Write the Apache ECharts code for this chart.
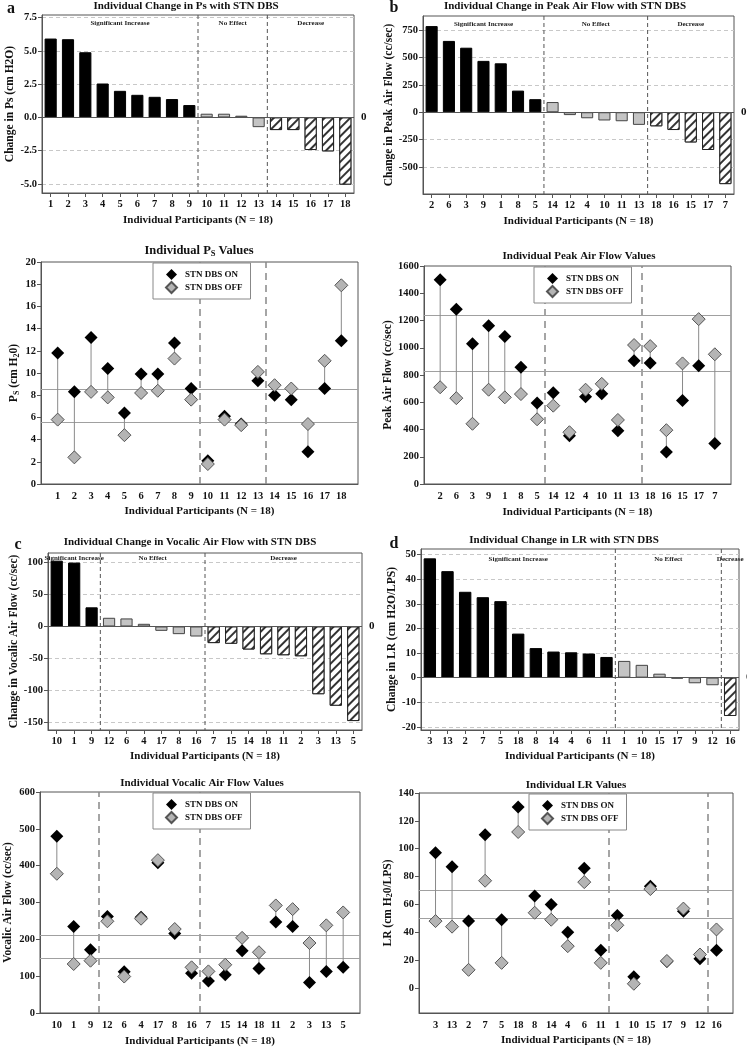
<!DOCTYPE html>
<html><head><meta charset="utf-8">
<script src="https://cdn.jsdelivr.net/npm/echarts@6.0.0/dist/echarts.min.js"></script>
<style>html,body{margin:0;padding:0;background:#fff}#c{width:747px;height:1049px}</style>
</head><body><div id="c"></div>
<script>
const FONT = '"Liberation Serif","Times New Roman",serif';
const groupLabels = ['Significant Increase', 'No Effect', 'Decrease'];
const xTitle = 'Individual Participants (N = 18)';
const legendNames = ['STN DBS ON', 'STN DBS OFF'];

// Panel a: subglottal pressure Ps
const psOrder = ['1','2','3','4','5','6','7','8','9','10','11','12','13','14','15','16','17','18'];
const psChange = [5.93,5.88,4.9,2.55,2.0,1.7,1.55,1.38,0.93,0.28,0.28,0.13,-0.73,-0.95,-0.95,-2.45,-2.55,-5.05];
const psOn  = [11.8,8.3,13.2,10.4,6.4,9.9,9.9,12.7,8.6,2.1,6.1,5.4,9.3,8.0,7.6,2.9,8.6,12.9];
const psOff = [5.8,2.4,8.3,7.8,4.4,8.2,8.4,11.3,7.6,1.8,5.8,5.3,10.1,8.9,8.6,5.4,11.1,17.9];
const psGroupSizes = [9, 4, 5];
const psRefLines = [8.5, 5.55];
const psChangeTicks = [-5, -2.5, 0, 2.5, 5, 7.5];

// Panel b: peak air flow
const pafOrder = ['2','6','3','9','1','8','5','14','12','4','10','11','13','18','16','15','17','7'];
const pafChange = [785,650,588,468,446,197,119,93,-26,-55,-75,-82,-115,-128,-162,-275,-344,-655];
const pafOn  = [1500,1282,1030,1162,1082,857,595,670,355,640,662,390,905,888,235,612,868,297];
const pafOff = [710,630,442,692,636,660,475,575,380,692,735,470,1020,1012,395,885,1210,952];
const pafGroupSizes = [7, 6, 5];
const pafRefLines = [1235, 830];
const pafChangeTicks = [-500, -250, 0, 250, 500, 750];

// Panel c: vocalic air flow
const vafOrder = ['10','1','9','12','6','4','17','8','16','7','15','14','18','11','2','3','13','5'];
const vafChange = [103,100,30,13.6,12.6,4.2,-6.8,-12,-15.7,-26,-27,-36,-43.5,-45,-46.6,-106,-124,-148];
const vafOn  = [480,235,172,262,112,260,408,216,108,87,104,169,121,247,235,83,113,124];
const vafOff = [378,133,142,249,99,256,415,228,124,113,131,204,165,292,282,190,238,273];
const vafGroupSizes = [3, 6, 9];
const vafRefLines = [211, 149];
const vafChangeTicks = [-150, -100, -50, 0, 50, 100];

// Panel d: laryngeal resistance LR
const lrOrder = ['3','13','2','7','5','18','8','14','4','6','11','1','10','15','17','9','12','16'];
const lrChange = [48.5,43.3,34.9,32.7,31.1,17.9,12,10.6,10.3,9.8,8.4,6.8,5.2,1.6,-0.4,-2.3,-3.1,-15.6];
const lrOn  = [97,87,48,110,49,130,66,60,40,86,27,52,8,73,19,55,21,27];
const lrOff = [48,44,13,77,18,112,54,49,30,76,18,45,3,71,19.4,57,24,42];
const lrGroupSizes = [11, 6, 1];
const lrRefLines = [70, 50];
const lrChangeTicks = [-20, -10, 0, 10, 20, 30, 40, 50];
const lrValueTicks = [0, 20, 40, 60, 80, 100, 120, 140];

const grids = [], xAxes = [], yAxes = [], series = [], legends = [], graphics = [];

function groupOf(i, sizes) {
  let s = 0;
  for (let k = 0; k < sizes.length; k++) { s += sizes[k]; if (i < s) return k; }
  return sizes.length - 1;
}
const barStyles = [
  {color: '#000', borderColor: '#000', borderWidth: 1},
  {color: '#c4c4c4', borderColor: '#444', borderWidth: 1},
  {color: '#fff', borderColor: '#222', borderWidth: 1,
   decal: {symbol: 'rect', symbolSize: 1, color: '#333', backgroundColor: '#fff',
           dashArrayX: [1, 0], dashArrayY: [1.2, 3.3], rotation: -Math.PI / 4}}
];
const labelStyle = {fontFamily: FONT, fontWeight: 'bold', fontSize: 10.5, color: '#111'};
const nameStyle = {fontFamily: FONT, fontWeight: 'bold', fontSize: 11.5, color: '#111'};
const subRich = {
  a: {fontFamily: FONT, fontWeight: 'bold', fontSize: 11.5, color: '#111'},
  s: {fontFamily: FONT, fontWeight: 'bold', fontSize: 8, color: '#111', padding: [5, 0, 0, 0]}
};
const fmt1 = v => v.toFixed(1);
const fmt0 = v => String(Math.round(v));

function gridOf(r) {
  return {left: r[0], top: r[1], width: r[2], height: r[3], show: true,
          borderColor: '#555', borderWidth: 1, backgroundColor: 'transparent'};
}

function addBarPanel(p) {
  const k = grids.length;
  grids.push(gridOf(p.grid));
  xAxes.push({type: 'category', gridIndex: k, data: p.cats, boundaryGap: true,
    axisLine: {show: true, onZero: false, lineStyle: {color: '#555'}},
    axisTick: {show: true, alignWithLabel: true, length: 4, lineStyle: {color: '#555'}},
    axisLabel: Object.assign({}, labelStyle, {interval: 0, margin: 6}),
    splitLine: {show: false},
    name: xTitle, nameLocation: 'middle', nameGap: p.xGap,
    nameTextStyle: Object.assign({}, nameStyle, {fontSize: 11})});
  yAxes.push({type: 'value', gridIndex: k, min: p.yMin, max: p.yMax,
    axisLine: {show: true, lineStyle: {color: '#555'}},
    axisTick: {show: true, length: 4, lineStyle: {color: '#555'}, customValues: p.ticks},
    axisLabel: Object.assign({}, labelStyle, {margin: 5, customValues: p.ticks, formatter: p.fmt}),
    splitLine: {show: true, lineStyle: {color: '#c8c8c8', type: [4, 3], width: 1}},
    name: p.yName, nameLocation: 'middle', nameGap: p.yGap, nameRotate: 90,
    nameTextStyle: Object.assign({}, nameStyle)});
  series.push({type: 'bar', xAxisIndex: k, yAxisIndex: k, barCategoryGap: '30%', silent: true,
    data: p.values.map((v, i) => ({value: v, itemStyle: barStyles[groupOf(i, p.sizes)]})),
    markLine: {silent: true, symbol: 'none', data: [{yAxis: 0}],
      lineStyle: {color: '#555', type: 'solid', width: 1},
      label: Object.assign({show: true, position: 'end', formatter: '0', distance: 7}, labelStyle, {fontSize: 11})}});
  const gdata = []; let s = 0;
  p.sizes.forEach((c, g) => { gdata.push([s, s + c - 1, g]); s += c; });
  series.push({type: 'custom', xAxisIndex: k, yAxisIndex: k, silent: true, z: 5,
    encode: {x: [0, 1], y: 2}, data: gdata,
    renderItem: (params, api) => {
      const cs = params.coordSys;
      const bw = api.size([1, 0])[0];
      const x0 = api.coord([api.value(0), 0])[0] - bw / 2;
      const x1 = api.coord([api.value(1), 0])[0] + bw / 2;
      const g = api.value(2);
      const ch = [{type: 'text', x: (x0 + x1) / 2, y: cs.y + p.labelDy,
        style: {text: groupLabels[g], font: 'bold 7px ' + FONT, fill: '#222',
                align: 'center', verticalAlign: 'middle'}}];
      if (g < p.sizes.length - 1) {
        ch.push({type: 'line', shape: {x1: x1, y1: cs.y, x2: x1, y2: cs.y + cs.height},
          style: {stroke: '#555', lineWidth: 1, lineDash: [4, 3]}});
      }
      return {type: 'group', children: ch};
    }});
}

function addScatterPanel(p) {
  const k = grids.length;
  grids.push(gridOf(p.grid));
  const idx = p.order.map((_, i) => i + 1);
  xAxes.push({type: 'value', gridIndex: k, min: 0, max: 19,
    axisLine: {show: true, onZero: false, lineStyle: {color: '#555'}},
    axisTick: {show: false},
    axisLabel: Object.assign({}, labelStyle, {margin: 7, customValues: idx,
      formatter: v => p.order[Math.round(v) - 1]}),
    splitLine: {show: false},
    name: xTitle, nameLocation: 'middle', nameGap: p.xGap,
    nameTextStyle: Object.assign({}, nameStyle, {fontSize: 11})});
  const yAx = {type: 'value', gridIndex: k, min: p.yMin, max: p.yMax,
    axisLine: {show: true, onZero: false, lineStyle: {color: '#555'}},
    axisTick: {show: true, length: 4, lineStyle: {color: '#555'}},
    axisLabel: Object.assign({}, labelStyle, {margin: 5, formatter: fmt0}),
    splitLine: {show: false},
    name: p.yName, nameLocation: 'middle', nameGap: p.yGap, nameRotate: 90,
    nameTextStyle: Object.assign({}, nameStyle, {rich: subRich})};
  if (p.ticks) { yAx.axisTick.customValues = p.ticks; yAx.axisLabel.customValues = p.ticks; }
  else { yAx.interval = p.interval; }
  yAxes.push(yAx);
  const dividers = []; let s = 0;
  p.sizes.slice(0, -1).forEach(c => { s += c; dividers.push(s + 0.5); });
  series.push({type: 'custom', xAxisIndex: k, yAxisIndex: k, silent: true, z: 1,
    encode: {x: 0, y: [1, 2]},
    data: idx.map((x, i) => [x, p.on[i], p.off[i]]),
    renderItem: (params, api) => {
      const a = api.coord([api.value(0), api.value(1)]);
      const b = api.coord([api.value(0), api.value(2)]);
      return {type: 'line', shape: {x1: a[0], y1: a[1], x2: b[0], y2: b[1]},
              style: {stroke: '#8a8a8a', lineWidth: 1}};
    }});
  series.push({type: 'scatter', name: legendNames[0], xAxisIndex: k, yAxisIndex: k, silent: true, z: 3,
    symbol: 'diamond', symbolSize: 13, itemStyle: {color: '#000', opacity: 1},
    data: idx.map((x, i) => [x, p.on[i]]),
    markLine: {silent: true, symbol: 'none', label: {show: false}, z: 1,
      data: dividers.map(x => ({xAxis: x, lineStyle: {color: '#888', type: [7, 5], width: 1.5}}))
        .concat(p.refs.map(y => ({yAxis: y, lineStyle: {color: '#a0a0a0', type: 'solid', width: 1}})))}});
  series.push({type: 'scatter', name: legendNames[1], xAxisIndex: k, yAxisIndex: k, silent: true, z: 4,
    symbol: 'diamond', symbolSize: 13,
    itemStyle: {color: '#b4b4b4', borderColor: '#555', borderWidth: 1, opacity: 1},
    data: idx.map((x, i) => [x, p.off[i]])});
  legends.push({left: p.legend[0], top: p.legend[1], orient: 'vertical', selectedMode: false,
    backgroundColor: '#fff', borderColor: '#888', borderWidth: 1, borderRadius: 0,
    padding: [6, 8, 5, 12], itemWidth: 11, itemHeight: 11, itemGap: 1, icon: 'diamond',
    data: legendNames.slice(),
    textStyle: {fontFamily: FONT, fontWeight: 'bold', fontSize: 9, color: '#111', padding: [0, 0, 0, 3]}});
}

function addText(x, y, text, size, rich) {
  const st = {text: text, font: 'bold ' + size + 'px ' + FONT, fill: '#111',
              align: 'center', verticalAlign: 'middle', textAlign: 'center', textVerticalAlign: 'middle'};
  if (rich) st.rich = rich;
  graphics.push({type: 'text', x: x, y: y, silent: true, style: st});
}

addBarPanel({grid: [42, 15, 312, 178], cats: psOrder, values: psChange, sizes: psGroupSizes,
  yMin: -5.68, yMax: 7.7, ticks: psChangeTicks, fmt: fmt1, yName: 'Change in Ps (cm H2O)',
  yGap: 25, xGap: 22, labelDy: 8});
addBarPanel({grid: [423, 16, 311, 178], cats: pafOrder, values: pafChange, sizes: pafGroupSizes,
  yMin: -745, yMax: 877, ticks: pafChangeTicks, fmt: fmt0, yName: 'Change in Peak Air Flow (cc/sec)',
  yGap: 28, xGap: 22, labelDy: 8});
addScatterPanel({grid: [41, 262, 317, 222], order: psOrder, on: psOn, off: psOff, sizes: psGroupSizes,
  refs: psRefLines, yMin: 0, yMax: 20, interval: 2, yName: '{a|P}{s|S}{a| (cm H}{s|2}{a|0)}',
  yGap: 20, xGap: 22, legend: [153, 263]});
addScatterPanel({grid: [424, 266, 307, 218], order: pafOrder, on: pafOn, off: pafOff, sizes: pafGroupSizes,
  refs: pafRefLines, yMin: 0, yMax: 1600, interval: 200, yName: '{a|Peak Air Flow (cc/sec)}',
  yGap: 29, xGap: 23, legend: [534, 267]});
addBarPanel({grid: [48, 553, 314, 177], cats: vafOrder, values: vafChange, sizes: vafGroupSizes,
  yMin: -162, yMax: 115, ticks: vafChangeTicks, fmt: fmt0, yName: 'Change in Vocalic Air Flow (cc/sec)',
  yGap: 28, xGap: 21, labelDy: 5});
addBarPanel({grid: [421, 549, 318, 181], cats: lrOrder, values: lrChange, sizes: lrGroupSizes,
  yMin: -21.3, yMax: 52.3, ticks: lrChangeTicks, fmt: fmt0, yName: 'Change in LR (cm H2O/LPS)',
  yGap: 21, xGap: 21, labelDy: 10});
addScatterPanel({grid: [40, 792, 320, 221], order: vafOrder, on: vafOn, off: vafOff, sizes: vafGroupSizes,
  refs: vafRefLines, yMin: 0, yMax: 600, interval: 100, yName: '{a|Vocalic Air Flow (cc/sec)}',
  yGap: 26, xGap: 23, legend: [153, 793]});
addScatterPanel({grid: [419, 793, 314, 220], order: lrOrder, on: lrOn, off: lrOff, sizes: lrGroupSizes,
  refs: lrRefLines, yMin: -18, yMax: 140, ticks: lrValueTicks, yName: '{a|LR (cm H}{s|2}{a|0/LPS)}',
  yGap: 23, xGap: 22, legend: [529, 794]});

// Titles and panel letters
addText(186, 6, 'Individual Change in Ps with STN DBS', 11);
addText(565, 6, 'Individual Change in Peak Air Flow with STN DBS', 11);
addText(199, 251, '{t|Individual P}{u|S}{t| Values}', 12.5, {
  t: {fontFamily: FONT, fontWeight: 'bold', fontSize: 12.5, color: '#111'},
  u: {fontFamily: FONT, fontWeight: 'bold', fontSize: 8.5, color: '#111', padding: [6, 0, 0, 0]}});
addText(579, 256, 'Individual Peak Air Flow Values', 11);
addText(190, 542, 'Individual Change in Vocalic Air Flow with STN DBS', 11);
addText(564, 540, 'Individual Change in LR with STN DBS', 11);
addText(202, 783, 'Individual Vocalic Air Flow Values', 11);
addText(576, 785, 'Individual LR Values', 11);
addText(11, 9, 'a', 16);
addText(394, 8, 'b', 16);
addText(18, 545, 'c', 16);
addText(394, 544, 'd', 16);

const chart = echarts.init(document.getElementById('c'), null, {renderer: 'canvas'});
chart.setOption({
  animation: false,
  backgroundColor: '#fff',
  grid: grids, xAxis: xAxes, yAxis: yAxes, series: series, legend: legends,
  graphic: graphics
});
</script></body></html>
